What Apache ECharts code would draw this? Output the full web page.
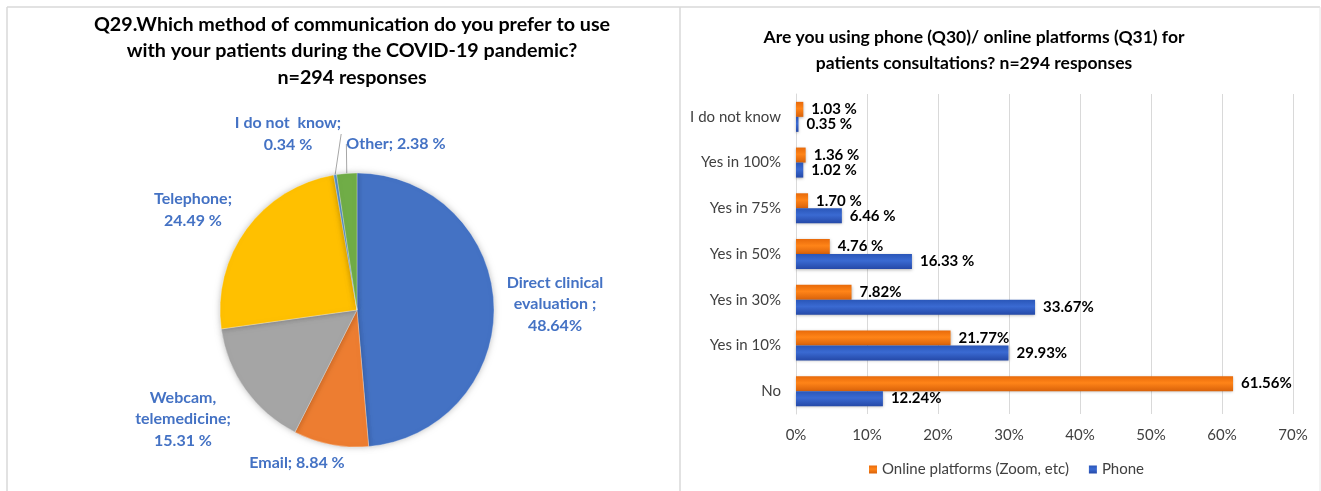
<!DOCTYPE html>
<html>
<head>
<meta charset="utf-8">
<script src="https://cdn.jsdelivr.net/npm/echarts@6/dist/echarts.min.js"></script>
<style>
html,body{margin:0;padding:0;background:#fff;}
#c{width:1321px;height:491px;}
</style>
</head>
<body>
<div id="c"></div>
<script>
// ---- Pie data (Q29) ----
const pieNames = ['Direct clinical\nevaluation ;', 'Email', 'Webcam,\ntelemedicine', 'Telephone', 'I do not  know', 'Other'];
const pieValues = [48.64, 8.84, 15.31, 24.49, 0.34, 2.38];
const pieLabels = ['Direct clinical\nevaluation ;\n48.64%', 'Email; 8.84 %', 'Webcam,\ntelemedicine;\n15.31 %', 'Telephone;\n24.49 %', 'I do not  know;\n0.34 %', 'Other; 2.38 %'];
const pieColors = ['#4472C4', '#ED7D31', '#A5A5A5', '#FFC000', '#5B9BD5', '#70AD47'];

// ---- Bar data (Q30/Q31) ----
const categories = ['No', 'Yes in 10%', 'Yes in 30%', 'Yes in 50%', 'Yes in 75%', 'Yes in 100%', 'I do not know'];
const onlineValues = [61.56, 21.77, 7.82, 4.76, 1.70, 1.36, 1.03];
const phoneValues = [12.24, 29.93, 33.67, 16.33, 6.46, 1.02, 0.35];
const onlineLabels = ['61.56%', '21.77%', '7.82%', '4.76 %', '1.70 %', '1.36 %', '1.03 %'];
const phoneLabels = ['12.24%', '29.93%', '33.67%', '16.33 %', '6.46 %', '1.02 %', '0.35 %'];
const xTicks = [0, 10, 20, 30, 40, 50, 60, 70];

const FONT = 'Lato';
// label placement (layout, not data)
const pieLabelPos = [[555, 304], [297, 463], [183, 419], [193, 210], [288, 134], [396, 144]];
const leaderIdx = [4, 5];

const chart = echarts.init(document.getElementById('c'), null, {renderer: 'canvas'});

const orangeGrad = new echarts.graphic.LinearGradient(0, 0, 0, 1, [
  {offset: 0, color: '#E86A0A'}, {offset: 0.45, color: '#FF8418'}, {offset: 1, color: '#D9620A'}]);
const blueGrad = new echarts.graphic.LinearGradient(0, 0, 0, 1, [
  {offset: 0, color: '#2A56B8'}, {offset: 0.45, color: '#3A6AD2'}, {offset: 1, color: '#2549A8'}]);

const option = {
  animation: false,
  textStyle: {fontFamily: FONT},
  graphic: [
    {type: 'line', shape: {x1: 7, y1: 7, x2: 1320, y2: 7}, style: {stroke: '#d9d9d9', lineWidth: 1.5}},
    {type: 'line', shape: {x1: 7, y1: 7, x2: 7, y2: 491}, style: {stroke: '#d9d9d9', lineWidth: 1.5}},
    {type: 'line', shape: {x1: 680, y1: 7, x2: 680, y2: 491}, style: {stroke: '#d9d9d9', lineWidth: 1.5}},
    {type: 'line', shape: {x1: 1320, y1: 7, x2: 1320, y2: 491}, style: {stroke: '#e6e6e6', lineWidth: 1}}
  ],
  title: [
    {
      text: 'Q29.Which method of communication do you prefer to use\nwith your patients during the COVID-19 pandemic?\nn=294 responses',
      left: 347, top: 6, textAlign: 'center',
      textStyle: {fontFamily: FONT, fontSize: 19.7, fontWeight: 'bold', color: '#000', lineHeight: 26.5}
    },
    {
      text: 'Are you using phone (Q30)/ online platforms (Q31) for\npatients consultations? n=294 responses',
      left: 969, top: 19, textAlign: 'center',
      textStyle: {fontFamily: FONT, fontSize: 17.5, fontWeight: 'bold', color: '#000', lineHeight: 26}
    }
  ],
  legend: {
    data: ['Online platforms (Zoom, etc)', 'Phone'],
    left: 864, top: 457,
    icon: 'rect', itemWidth: 8, itemHeight: 8, itemGap: 20,
    textStyle: {fontFamily: FONT, fontSize: 15, color: '#404040'}
  },
  grid: {left: 796, right: 28, top: 94, bottom: 77, containLabel: false},
  xAxis: {
    type: 'value', min: 0, max: 70, interval: 10,
    axisLabel: {formatter: v => v + '%', fontFamily: FONT, fontSize: 15, color: '#404040', margin: 14,
      customValues: xTicks},
    splitLine: {show: true, lineStyle: {color: '#d9d9d9', width: 1}},
    axisLine: {show: false}, axisTick: {show: false}
  },
  yAxis: {
    type: 'category', data: categories,
    axisLabel: {fontFamily: FONT, fontSize: 15, color: '#404040', margin: 15},
    axisLine: {show: true, lineStyle: {color: '#d9d9d9'}},
    axisTick: {show: false}
  },
  series: [
    {
      type: 'pie',
      center: [357, 310], radius: 137,
      startAngle: 90, clockwise: true,
      avoidLabelOverlap: false,
      data: pieValues.map((v, i) => ({
        value: v, name: pieNames[i],
        itemStyle: {color: pieColors[i]},
        labelLine: {show: leaderIdx.includes(i)}
      })),
      itemStyle: {borderColor: 'rgba(255,255,255,0.6)', borderWidth: 0.5, shadowBlur: 6, shadowColor: 'rgba(0,0,0,0.25)'},
      label: {
        show: true, position: 'outside',
        formatter: p => pieLabels[p.dataIndex],
        fontFamily: FONT, fontSize: 16, fontWeight: 'bold', color: '#4472C4', lineHeight: 21.5, align: 'center'
      },
      labelLine: {show: false, length: 8, length2: 6, lineStyle: {color: '#a6a6a6', width: 1}},
      labelLayout: function (params) {
        const p = pieLabelPos[params.dataIndex];
        return {x: p[0], y: p[1], align: 'center', verticalAlign: 'middle'};
      },
      emphasis: {disabled: true}
    },
    {
      name: 'Online platforms (Zoom, etc)', type: 'bar',
      data: onlineValues, barWidth: 15, barGap: '0%',
      itemStyle: {color: orangeGrad, shadowBlur: 3, shadowColor: 'rgba(0,0,0,0.3)', shadowOffsetY: 1},
      label: {show: true, position: 'right', distance: 8, formatter: p => onlineLabels[p.dataIndex],
        fontFamily: FONT, fontSize: 15, fontWeight: 'bold', color: '#000'}
    },
    {
      name: 'Phone', type: 'bar',
      data: phoneValues, barWidth: 15, barGap: '0%',
      itemStyle: {color: blueGrad, shadowBlur: 3, shadowColor: 'rgba(0,0,0,0.3)', shadowOffsetY: 1},
      label: {show: true, position: 'right', distance: 8, formatter: p => phoneLabels[p.dataIndex],
        fontFamily: FONT, fontSize: 15, fontWeight: 'bold', color: '#000'}
    }
  ]
};
chart.setOption(option);
</script>
</body>
</html>
